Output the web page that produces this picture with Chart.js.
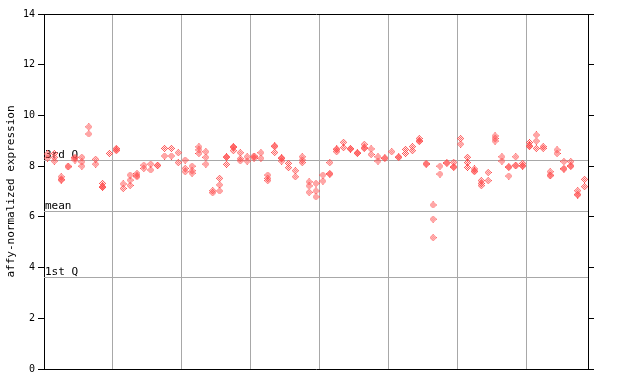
<!DOCTYPE html>
<html>
<head>
<meta charset="utf-8">
<script src="https://cdn.jsdelivr.net/npm/chart.js@4"></script>
<style>
  html, body { margin: 0; padding: 0; background: #fff; }
  #wrap { width: 640px; height: 384px; }
</style>
</head>
<body>
<div id="wrap"><canvas id="chart" width="640" height="384"></canvas></div>
<script>
// ─── Data ────────────────────────────────────────────────────────
// one column per sample, up to three replicate values each (null = none)
const rep1 = [8.48, 8.50, 7.58, 8.00, 8.35, 8.35, 9.55, 8.27, 7.32, 8.50,
              8.70, 7.30, 7.65, 7.71, 8.04, 8.08, 8.04, 8.70, 8.70, 8.53,
              8.24, 8.00, 8.76, 8.57, 7.03, 7.52, 8.37, 8.77, 8.53, 8.37,
              8.40, 8.53, 7.65, 8.80, 8.33, 8.11, 7.82, 8.37, 7.38, 7.32,
              7.65, 8.14, 8.68, 8.94, 8.70, 8.53, 8.86, 8.68, 8.37, 8.33,
              8.57, 8.37, 8.66, 8.77, 9.09, 8.11, 6.47, 8.00, 8.14, 8.15,
              9.09, 8.35, 7.89, 7.43, 7.75, 9.19, 8.37, 7.98, 8.37, 8.11,
              8.93, 9.23, 8.77, 7.78, 8.64, 8.18, 8.18, 7.03, 7.48];
const rep2 = [8.32, 8.35, 7.48, 7.97, 8.32, 8.17, 9.27, 8.08, 7.19, null,
              8.61, 7.12, 7.45, 7.58, 7.91, 7.85, 8.02, 8.40, 8.40, 8.14,
              7.91, 7.82, 8.64, 8.35, 6.95, 7.26, 8.35, 8.74, 8.29, 8.20,
              8.37, 8.31, 7.52, 8.77, 8.30, 7.94, 7.58, 8.24, 7.22, 7.02,
              7.41, 7.71, 8.65, 8.73, 8.67, 8.50, 8.73, 8.46, 8.20, 8.30,
              null, 8.34, 8.50, 8.61, 9.00, 8.07, 5.91, 7.69, 8.11, 7.98,
              8.87, 8.14, 7.78, 7.32, 7.43, 9.09, 8.20, 7.95, 8.04, 8.02,
              8.80, 8.99, 8.70, 7.62, 8.50, 7.91, 8.02, 6.86, 7.19];
const rep3 = [null, 8.20, 7.45, null, 8.24, 8.00, null, null, 7.16, null,
              8.64, null, 7.24, 7.62, null, null, null, null, null, null,
              7.78, 7.72, 8.50, 8.08, null, 7.02, 8.07, 8.61, 8.21, null,
              8.31, null, 7.43, 8.54, 8.20, null, null, 8.14, 6.97, 6.79,
              null, 7.68, 8.57, null, null, null, 8.70, null, null, null,
              null, null, null, null, 8.97, null, 5.18, null, null, 7.95,
              null, 7.95, 7.81, 7.23, null, 8.99, null, 7.61, 8.01, 8.00,
              8.77, 8.70, null, 7.65, null, 7.88, 7.99, 6.89, null];

// reference lines (3rd quartile, mean, 1st quartile)
const refValues = [8.24, 6.23, 3.63];
const refLabels = ['3rd Q', 'mean', '1st Q'];

const Y_TITLE = 'affy-normalized expression';
const RED = '#ff4d4d';
const GRID = '#a8a8a8';
const FONT = "'DejaVu Sans Mono', monospace";

// ─── Marker: small checkered diamond ─────────────────────────────
function makeDiamond(color) {
  const c = document.createElement('canvas');
  c.width = 7; c.height = 7;
  const g = c.getContext('2d');
  g.fillStyle = color;
  for (let dy = -3; dy <= 3; dy++) {
    for (let dx = -3; dx <= 3; dx++) {
      if (Math.abs(dx) + Math.abs(dy) <= 3 && Math.abs(dx + dy) % 2 === 1) g.fillRect(dx + 3, dy + 3, 1, 1);
    }
  }
  return c;
}
const marker = makeDiamond(RED);

const toPoints = arr => arr.map((v, i) => v == null ? null : { x: i + 0.5, y: v }).filter(Boolean);

// ─── Reference lines plugin ──────────────────────────────────────
const refLines = {
  id: 'refLines',
  beforeDatasetsDraw(chart) {
    const { ctx, chartArea: a, scales: { y } } = chart;
    ctx.save();
    ctx.strokeStyle = GRID;
    ctx.lineWidth = 1;
    ctx.fillStyle = '#000';
    ctx.font = `11px ${FONT}`;
    ctx.textBaseline = 'bottom';
    refValues.forEach((v, i) => {
      const py = Math.round(y.getPixelForValue(v)) + 0.5;
      ctx.beginPath();
      ctx.moveTo(a.left, py);
      ctx.lineTo(a.right, py);
      ctx.stroke();
      ctx.fillText(refLabels[i], a.left + 1, py);
    });
    ctx.restore();
  }
};

// ─── Chart ───────────────────────────────────────────────────────
const N = rep1.length;
const ds = arr => ({
  data: toPoints(arr),
  pointStyle: marker,
  showLine: false,
  borderColor: RED,
  backgroundColor: RED
});

new Chart(document.getElementById('chart'), {
  type: 'scatter',
  data: { datasets: [ds(rep1), ds(rep2), ds(rep3)] },
  plugins: [refLines],
  options: {
    responsive: false,
    animation: false,
    events: [],
    layout: { padding: { left: 0, top: 14, right: 46, bottom: 15 } },
    plugins: { legend: { display: false }, tooltip: { enabled: false } },
    scales: {
      x: {
        type: 'linear', min: 0, max: N,
        ticks: { display: false, stepSize: 10 },
        afterBuildTicks: s => { s.ticks = s.ticks.filter(t => t.value > 0 && t.value < N); },
        grid: { color: GRID, drawTicks: false },
        border: { color: '#000' },
        afterFit: s => { s.height = 0; }
      },
      xTop: {
        type: 'linear', position: 'top', min: 0, max: N,
        ticks: { display: false },
        grid: { display: false, drawTicks: false },
        border: { color: '#000' },
        afterFit: s => { s.height = 0; }
      },
      y: {
        min: 0, max: 14,
        ticks: { stepSize: 2, color: '#000', padding: 3, font: { family: FONT, size: 10 } },
        grid: { drawOnChartArea: false, tickLength: 6, color: '#000' },
        border: { color: '#000' },
        title: { display: true, text: Y_TITLE, color: '#000', padding: { top: 5, bottom: 0 }, font: { family: FONT, size: 11 } },
        afterFit: s => { s.width = 44; }
      },
      y2: {
        position: 'right', min: 0, max: 14,
        ticks: { stepSize: 2, display: false },
        grid: { drawOnChartArea: false, tickLength: 6, color: '#000' },
        border: { color: '#000' },
        afterFit: s => { s.width = 6; }
      }
    }
  }
});
</script>
</body>
</html>
